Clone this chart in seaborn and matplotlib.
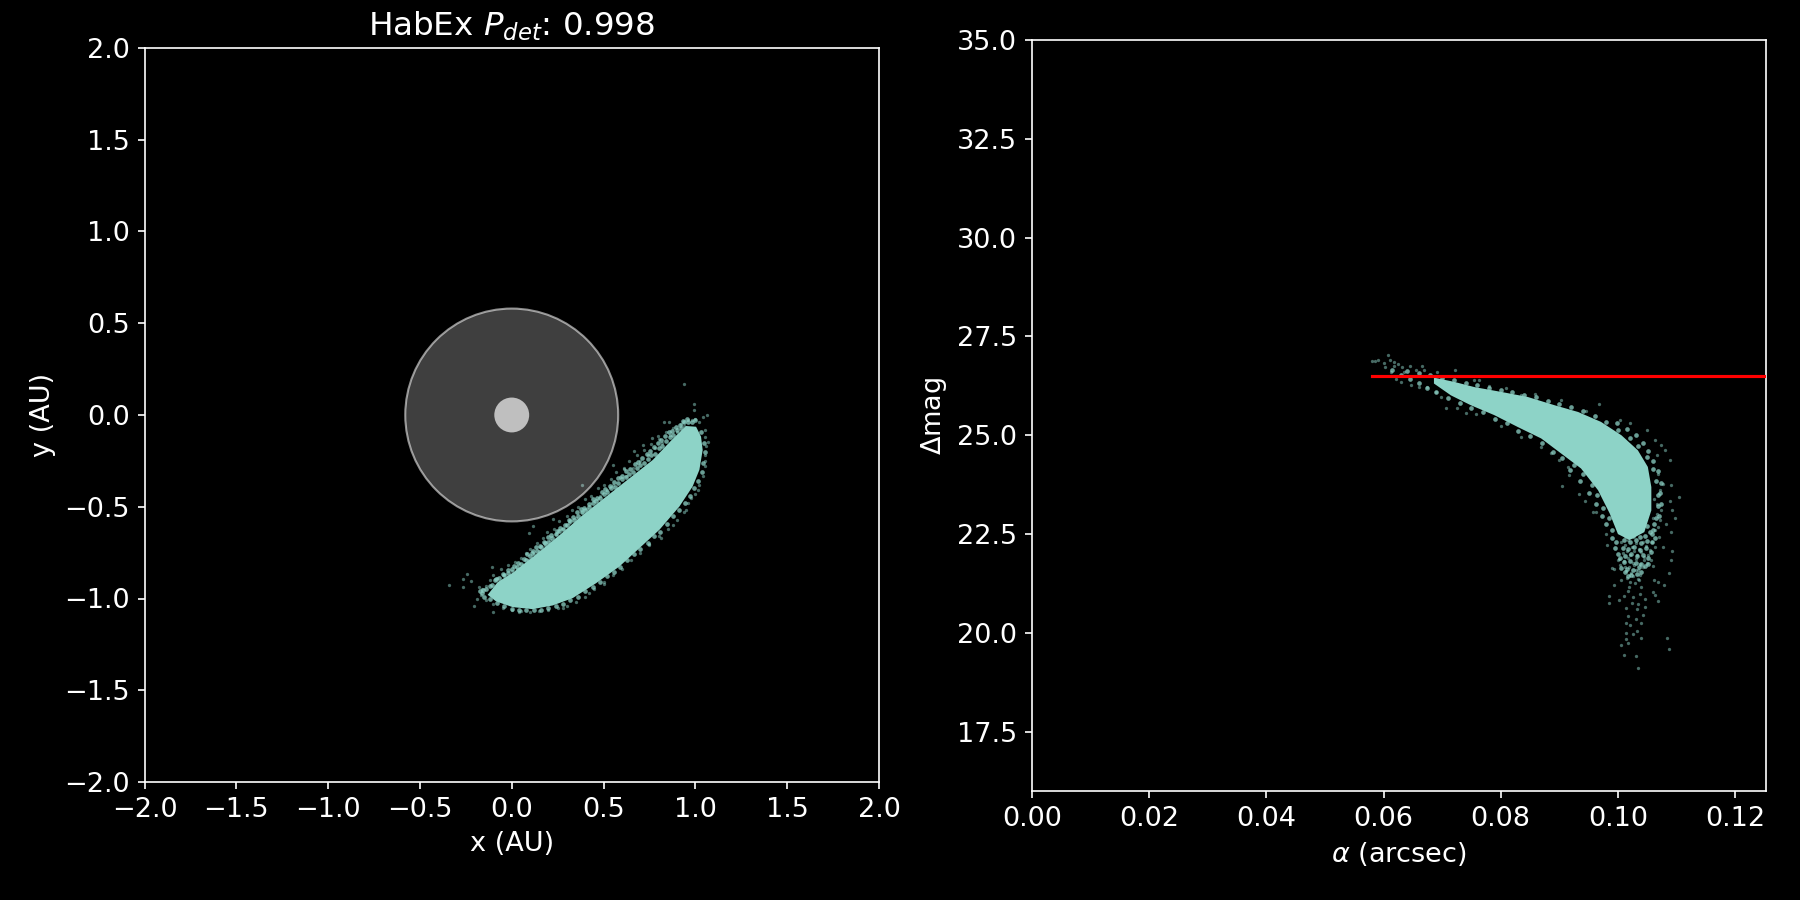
# HabEx detection plot: projected orbit and dMag vs separation
import matplotlib
matplotlib.use("Agg")
import matplotlib.pyplot as plt
import seaborn as sns

plt.style.use("dark_background")
plt.rcParams["font.size"] = 13

# outline of the solid part of the x/y cloud (AU)
xy_core_x = [1.004, 1.031, 1.040, 1.022, 0.985, 0.913, 0.804, 0.695, 0.586, 0.459, 0.332, 0.223, 0.114,
             0.005, -0.085, -0.131, -0.076, 0.005, 0.132, 0.260, 0.387, 0.514, 0.641, 0.768, 0.877, 0.949]
xy_core_y = [-0.064, -0.118, -0.191, -0.299, -0.390, -0.499, -0.626, -0.726, -0.826, -0.917, -0.998, -1.038, -1.058,
             -1.047, -1.016, -0.980, -0.910, -0.860, -0.760, -0.655, -0.545, -0.445, -0.345, -0.245, -0.130, -0.060]

# points crowding the edge of the x/y cloud
xy_edge_x = [-0.12, -0.09, -0.07, -0.04, -0.02, 0.00, 0.03, 0.05, 0.08, 0.10, 0.11, 0.14, 0.16, 0.18, 0.20, 0.22,
             0.24, 0.26, 0.28, 0.30, 0.32, 0.34, 0.36, 0.38, 0.40, 0.42, 0.44, 0.46, 0.48, 0.50, 0.52, 0.54, 0.56,
             0.58, 0.60, 0.62, 0.64, 0.66, 0.68, 0.70, 0.72, 0.74, 0.76, 0.78, 0.80, 0.82, 0.84, 0.86, 0.88, 0.90,
             0.92, 0.94, 0.96, 0.98, 1.00,
             1.03, 1.045, 1.05, 1.04, 1.035, 1.015, 0.995, 0.97, 0.945, 0.91, 0.88, 0.845, 0.81, 0.775, 0.74, 0.70,
             0.665, 0.63, 0.59, 0.555, 0.52, 0.48, 0.44, 0.40, 0.36, 0.32, 0.28, 0.24, 0.20, 0.16, 0.12, 0.08, 0.04,
             0.00, -0.04, -0.08, -0.12, -0.15, -0.16, -0.14,
             0.01, 0.035, 0.065, 0.085, 0.115, 0.13, 0.155, 0.175, 0.20, 0.215, 0.245, 0.265, 0.29, 0.31, 0.335,
             0.355, 0.375, 0.395, 0.42, 0.44, 0.465, 0.49, 0.51, 0.535, 0.555, 0.58, 0.60, 0.625, 0.645, 0.67, 0.69,
             0.71, 0.735, 0.755, 0.775, 0.795, 0.815, 0.835, 0.855, 0.875, 0.895, 0.915, 0.935, 0.955, -0.02, -0.05,
             -0.085, -0.11, -0.155, -0.175]
xy_edge_y = [-0.93, -0.90, -0.89, -0.87, -0.86, -0.84, -0.83, -0.81, -0.79, -0.77, -0.75, -0.74, -0.72, -0.70, -0.69,
             -0.67, -0.65, -0.63, -0.62, -0.60, -0.58, -0.57, -0.55, -0.53, -0.52, -0.50, -0.48, -0.47, -0.45, -0.43,
             -0.42, -0.40, -0.39, -0.37, -0.35, -0.34, -0.32, -0.31, -0.29, -0.27, -0.26, -0.24, -0.22, -0.21, -0.18,
             -0.17, -0.14, -0.12, -0.11, -0.08, -0.07, -0.04, -0.04, -0.04, -0.03,
             -0.09, -0.15, -0.20, -0.26, -0.31, -0.36, -0.40, -0.44, -0.48, -0.52, -0.55, -0.595, -0.635, -0.66, -0.695,
             -0.73, -0.76, -0.79, -0.83, -0.855, -0.88, -0.91, -0.94, -0.96, -0.99, -1.01, -1.03, -1.04, -1.05, -1.06,
             -1.065, -1.065, -1.06, -1.055, -1.04, -1.025, -1.005, -0.99, -0.97, -0.95,
             -0.825, -0.805, -0.785, -0.76, -0.74, -0.72, -0.715, -0.69, -0.665, -0.655, -0.63, -0.615, -0.60, -0.57,
             -0.555, -0.53, -0.515, -0.505, -0.485, -0.46, -0.45, -0.42, -0.405, -0.385, -0.365, -0.345, -0.33, -0.305,
             -0.295, -0.265, -0.255, -0.235, -0.21, -0.195, -0.175, -0.155, -0.135, -0.115, -0.095, -0.085, -0.065,
             -0.055, -0.035, -0.02, -0.845, -0.865, -0.895, -0.925, -0.955, -0.96]

# loose points around the x/y cloud
xy_pts_x = [0.936, 0.991, 0.995, 1.040, 1.062, 0.828, 0.858, 1.067, 1.054, -0.339, -0.245, -0.267, -0.267, -0.221,
            -0.207, -0.109, 0.381, 0.114, 0.096, 0.223, 0.550, 0.613, 0.668, 0.713, 0.762, 0.795, 0.813, 0.746,
            0.877, 0.949, 0.976, 1.013, 0.505, 0.423, 0.281, 0.042, -0.103,
            -0.12, -0.10, -0.08, -0.06, -0.04, -0.02, 0.00, 0.02, 0.03, 0.05, 0.06, 0.08, 0.09, 0.10, 0.12, 0.14,
            0.15, 0.17, 0.18, 0.19, 0.21, 0.23, 0.24, 0.26, 0.28, 0.30, 0.31, 0.33, 0.35, 0.36, 0.38, 0.40, 0.41,
            0.43, 0.45, 0.47, 0.48, 0.50, 0.52, 0.54, 0.55, 0.57, 0.59, 0.61, 0.62, 0.64, 0.66, 0.68, 0.70, 0.72,
            0.74, 0.76, 0.78, 0.80, 0.82, 0.84, 0.86, 0.88, 0.90, 0.92, 0.94, 0.96, 0.98, 1.00, 1.02, 1.05, 1.05,
            1.06, 1.05, 1.05, 1.04, 1.02, 1.00, 0.96, 0.94, 0.90, 0.85, 0.80, 0.75, 0.70, 0.65, 0.60, 0.55, 0.50,
            0.45, 0.40, 0.35, 0.30, 0.25, 0.20, 0.15, 0.10, 0.05, 0.00, -0.05, -0.10, -0.14, -0.17, -0.19, -0.16,
            -0.14, -0.18]
xy_pts_y = [0.167, 0.058, 0.027, -0.009, -0.002, -0.036, -0.036, -0.145, -0.250, -0.927, -0.868, -0.895, -0.938,
            -0.907, -1.040, -0.829, -0.383, -0.603, -0.641, -0.568, -0.272, -0.294, -0.196, -0.163, -0.127, -0.113,
            -0.672, -0.704, -0.599, -0.517, -0.454, -0.408, -0.922, -0.971, -1.053, -1.076, -1.071,
            -0.90, -0.87, -0.89, -0.84, -0.87, -0.82, -0.85, -0.80, -0.84, -0.78, -0.82, -0.75, -0.79, -0.73, -0.76,
            -0.70, -0.74, -0.67, -0.71, -0.64, -0.68, -0.62, -0.65, -0.58, -0.62, -0.55, -0.59, -0.52, -0.56, -0.50,
            -0.53, -0.46, -0.51, -0.44, -0.47, -0.40, -0.44, -0.38, -0.41, -0.35, -0.38, -0.31, -0.34, -0.29, -0.33,
            -0.25, -0.29, -0.22, -0.25, -0.19, -0.22, -0.16, -0.18, -0.13, -0.15, -0.09, -0.11, -0.07, -0.09, -0.05,
            -0.06, -0.03, -0.03, -0.02, -0.04, -0.08, -0.12, -0.17, -0.22, -0.28, -0.33, -0.38, -0.43, -0.48, -0.53,
            -0.57, -0.62, -0.66, -0.71, -0.75, -0.79, -0.84, -0.87, -0.91, -0.95, -0.99, -1.02, -1.04, -1.05, -1.06,
            -1.07, -1.075, -1.07, -1.065, -1.05, -1.03, -1.01, -0.98, -1.00, -0.95, -0.93, -0.94]

# outline of the solid part of the dMag/alpha cloud
da_core_a = [0.0686, 0.0721, 0.0755, 0.0800, 0.0846, 0.0892, 0.0932, 0.0971, 0.1006, 0.1034, 0.1051, 0.1057, 0.1057,
             0.1045, 0.1020, 0.1000, 0.0986, 0.0966, 0.0937, 0.0903, 0.0869, 0.0829, 0.0789, 0.0749, 0.0715, 0.0686]
da_core_m = [26.46, 26.35, 26.22, 26.10, 25.97, 25.76, 25.59, 25.34, 25.00, 24.62, 24.20, 23.69, 23.10,
             22.55, 22.35, 22.50, 23.02, 23.61, 24.16, 24.54, 24.92, 25.21, 25.51, 25.76, 26.01, 26.31]

# points crowding the edge of the dMag/alpha cloud and its lower lobe
da_edge_a = [0.0640, 0.0660, 0.0680, 0.0700, 0.0720, 0.0740, 0.0760, 0.0780, 0.0800, 0.0820, 0.0840, 0.0860, 0.0880,
             0.0900, 0.0920, 0.0940, 0.0960, 0.0980, 0.1000, 0.1020, 0.1035, 0.1050, 0.1060, 0.1065, 0.1068, 0.1068,
             0.1065, 0.1060, 0.1058,
             0.0996, 0.0990, 0.0985, 0.0975, 0.0965, 0.0955, 0.0940, 0.0925, 0.0905, 0.0890, 0.0870, 0.0850, 0.0830,
             0.0810, 0.0790, 0.0770, 0.0750, 0.0730, 0.0710, 0.0690, 0.0675, 0.0660, 0.0645, 0.0630, 0.0615,
             0.1010, 0.1020, 0.1030, 0.1040, 0.1050, 0.1008, 0.1018, 0.1028, 0.1038, 0.1048, 0.1012, 0.1022, 0.1032,
             0.1042, 0.1052, 0.1010, 0.1020, 0.1030, 0.1040, 0.1016, 0.1026, 0.1036, 0.1022, 0.1032,
             0.1042, 0.1050, 0.1058, 0.1064, 0.1054, 0.1062, 0.1070, 0.1073, 0.1072, 0.1074, 0.1068, 0.1060, 0.1052,
             0.1042, 0.1030, 0.1016, 0.0998,
             0.0990, 0.0995, 0.1000, 0.1003, 0.1006, 0.1012, 0.1018, 0.1040, 0.1046, 0.1052, 0.1056, 0.1046, 0.1038,
             0.1026, 0.1014,
             0.0980, 0.0972, 0.0962, 0.0950, 0.0935, 0.0918]
da_edge_m = [26.62, 26.58, 26.53, 26.45, 26.40, 26.32, 26.26, 26.19, 26.14, 26.09, 26.03, 25.96, 25.87,
             25.80, 25.71, 25.62, 25.49, 25.33, 25.14, 24.93, 24.72, 24.45, 24.15, 23.85, 23.50, 23.20,
             22.90, 22.60, 22.30,
             22.30, 22.60, 22.90, 23.15, 23.50, 23.75, 24.02, 24.25, 24.42, 24.58, 24.80, 24.98, 25.12,
             25.30, 25.42, 25.58, 25.68, 25.82, 25.95, 26.10, 26.20, 26.32, 26.42, 26.52, 26.66,
             22.35, 22.30, 22.35, 22.28, 22.32, 22.15, 22.12, 22.18, 22.10, 22.14, 21.95, 22.00, 21.94,
             21.98, 21.90, 21.80, 21.82, 21.78, 21.74, 21.62, 21.60, 21.66, 21.46, 21.50,
             22.80, 22.70, 22.50, 22.40, 22.55, 22.75, 22.95, 23.25, 23.55, 23.80, 24.10, 24.35, 24.60,
             24.80, 25.00, 25.15, 25.30,
             22.40, 22.15, 22.00, 21.90, 21.65, 21.55, 21.45, 21.55, 21.70, 21.75, 22.05, 22.45, 22.42,
             22.44, 22.46,
             22.75, 22.95, 23.25, 23.55, 23.85, 24.12]

# loose points around the dMag/alpha cloud
da_pts_a = [0.1034, 0.1030, 0.1010, 0.1006, 0.1013, 0.1018, 0.1040, 0.1083, 0.1087, 0.1026, 0.1032, 0.1013, 0.1020,
            0.1040, 0.1014, 0.1030, 0.1043, 0.1017, 0.1047, 0.1014, 0.1032, 0.1024, 0.0984, 0.0984, 0.1001, 0.1011,
            0.1017, 0.1040, 0.1046, 0.1063, 0.1068, 0.1060, 0.1068, 0.1078, 0.1061, 0.0994, 0.1019, 0.1038, 0.1026,
            0.1034,
            0.1104, 0.1097, 0.1091, 0.1088, 0.1080, 0.1074, 0.1066, 0.1063, 0.1050, 0.1020, 0.1004, 0.0967, 0.0903,
            0.1088, 0.1092, 0.1090, 0.1093, 0.1090, 0.1087, 0.1077, 0.1082, 0.1074, 0.1077, 0.1068, 0.1071, 0.1066,
            0.1068, 0.1063, 0.1057,
            0.0905, 0.0916, 0.0934, 0.0943, 0.0957, 0.0963, 0.0979, 0.0982, 0.0990, 0.0994, 0.1000, 0.1003, 0.1006,
            0.0914, 0.0900, 0.0886, 0.0869, 0.0834, 0.0800, 0.0757, 0.0741, 0.0707, 0.0726, 0.0646, 0.0629, 0.0621,
            0.0608, 0.0581, 0.0585, 0.0591, 0.0600, 0.0611, 0.0618, 0.0603, 0.0624, 0.0618, 0.0632, 0.0645, 0.0665,
            0.0722, 0.0612, 0.0635, 0.0655, 0.0669, 0.0692, 0.0675, 0.0661, 0.0698, 0.0689, 0.0755, 0.0763, 0.0780,
            0.0809, 0.0835, 0.0859, 0.0946,
            0.1005, 0.1012, 0.1018, 0.1024, 0.1030, 0.1036, 0.1042, 0.1048, 0.1054, 0.1008, 0.1015, 0.1021, 0.1027,
            0.1033, 0.1039, 0.1045, 0.1051, 0.1002, 0.1010, 0.1017, 0.1025, 0.1031, 0.1037, 0.1044, 0.1050, 0.1012,
            0.1019, 0.1028, 0.1035, 0.1043, 0.1014, 0.1022, 0.1030, 0.1038, 0.1016, 0.1026, 0.1034, 0.1020, 0.1029,
            0.1036, 0.1060, 0.1064, 0.1070, 0.1062, 0.1058, 0.1066, 0.1072, 0.1060]
da_pts_m = [19.12, 19.42, 19.45, 19.70, 19.84, 19.75, 19.88, 19.88, 19.60, 19.98, 20.06, 20.00, 20.21,
            20.26, 20.26, 20.36, 20.46, 20.43, 20.66, 20.64, 20.61, 20.76, 20.76, 20.94, 20.84, 20.94,
            21.06, 21.16, 20.87, 20.95, 20.81, 21.03, 21.30, 21.22, 21.35, 21.22, 21.16, 20.99, 20.91,
            20.74,
            23.44, 22.92, 23.75, 24.38, 24.64, 24.76, 24.51, 24.87, 25.13, 25.30, 25.38, 25.80, 25.89,
            23.35, 23.10, 22.55, 22.06, 21.85, 21.52, 22.17, 22.76, 23.10, 23.78, 24.03, 23.61, 23.27,
            22.68, 22.17, 21.84,
            23.71, 23.99, 23.52, 23.35, 23.07, 23.07, 22.49, 22.23, 21.64, 21.62, 21.84, 21.71, 21.33,
            24.21, 24.38, 24.54, 24.70, 24.96, 25.23, 25.55, 25.57, 25.70, 25.68, 26.27, 26.35, 26.43,
            27.04, 26.87, 26.87, 26.90, 26.83, 26.90, 26.86, 26.73, 26.80, 26.75, 26.73, 26.75, 26.76,
            26.66, 26.60, 26.60, 26.65, 26.65, 26.59, 26.22, 26.22, 25.97, 26.10, 26.39, 26.39, 26.25,
            26.20, 26.01, 26.05, 25.62,
            22.30, 22.22, 22.34, 22.18, 22.28, 22.12, 22.30, 22.20, 22.10, 22.02, 22.06, 21.96, 22.08,
            21.98, 22.04, 21.92, 21.98, 21.88, 21.82, 21.90, 21.78, 21.86, 21.74, 21.84, 21.76, 21.68,
            21.66, 21.72, 21.60, 21.68, 21.56, 21.52, 21.58, 21.46, 21.40, 21.44, 21.36, 21.30, 21.26,
            21.34, 22.90, 22.60, 22.42, 23.40, 22.30, 23.00, 22.85, 21.70]

# red line is the dMag limit from the iwa outwards
iwa_arcsec = 0.0581
dmag_limit = 26.49

star_radius = 0.095
iwa_radius = 0.58
cloud_color = "#8dd3c7"

fig = plt.figure(figsize=(12, 6), dpi=150)
ax1 = fig.add_axes([0.0803, 0.1311, 0.408, 0.8156])
ax2 = fig.add_axes([0.5733, 0.1211, 0.4076, 0.8344])

# left panel
ax1.fill(xy_core_x, xy_core_y, color=cloud_color, lw=0, zorder=2)
sns.scatterplot(x=xy_pts_x, y=xy_pts_y, ax=ax1, s=2.5, color=cloud_color, alpha=0.5, linewidth=0, zorder=2)
sns.scatterplot(x=xy_edge_x, y=xy_edge_y, ax=ax1, s=5, color=cloud_color, alpha=0.75, linewidth=0, zorder=2)
ax1.add_patch(plt.Circle((0, 0), iwa_radius, facecolor=(1, 1, 1, 0.25), edgecolor=(1, 1, 1, 0.55), lw=1, zorder=3))
ax1.add_patch(plt.Circle((0, 0), star_radius, facecolor="0.75", edgecolor="none", zorder=4))
ax1.set_xlim(-2, 2)
ax1.set_ylim(-2, 2)
ax1.set_xlabel("x (AU)")
ax1.set_ylabel("y (AU)")
ax1.set_title(r"HabEx $P_{det}$: 0.998")

# right panel
ax2.fill(da_core_a, da_core_m, color=cloud_color, lw=0, zorder=2)
sns.scatterplot(x=da_pts_a, y=da_pts_m, ax=ax2, s=2.5, color=cloud_color, alpha=0.5, linewidth=0, zorder=2)
sns.scatterplot(x=da_edge_a, y=da_edge_m, ax=ax2, s=5, color=cloud_color, alpha=0.75, linewidth=0, zorder=2)
ax2.plot([iwa_arcsec, 0.1252], [dmag_limit, dmag_limit], color="red", lw=1.5, zorder=3)
ax2.set_xlim(0, 0.1252)
ax2.set_ylim(16, 35)
ax2.set_xlabel(r"$\alpha$ (arcsec)")
ax2.set_ylabel(r"$\Delta$mag")

fig.savefig("out.png", facecolor="black")
